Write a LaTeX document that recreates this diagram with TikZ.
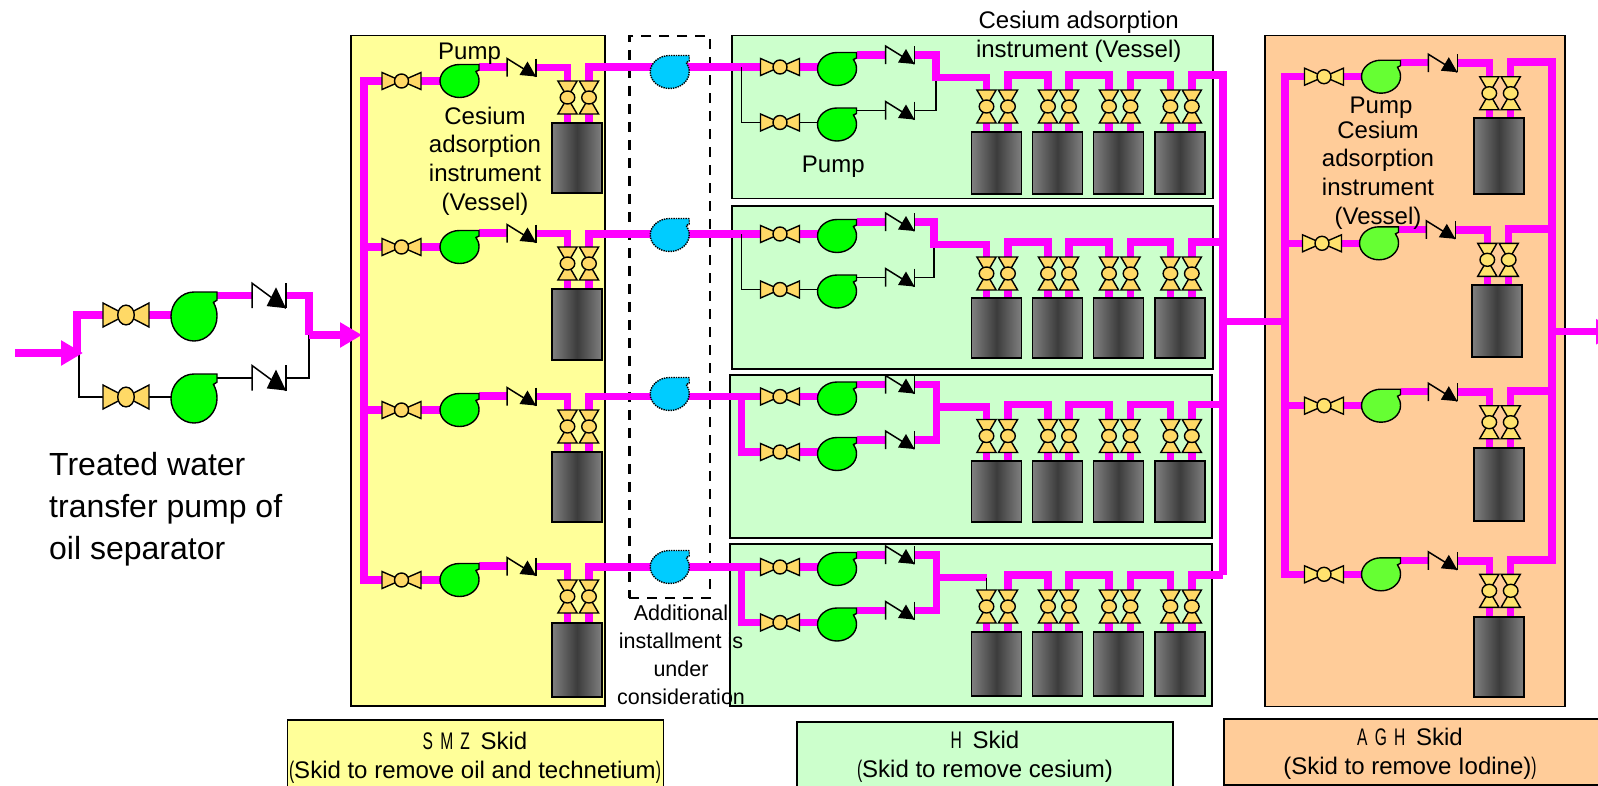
\documentclass[tikz,border=0pt]{standalone}
\usepackage{fontspec}
\setmainfont{Liberation Sans}
\newfontfamily\skidLetters[FakeStretch=0.65,LetterSpace=30]{Liberation Sans}
\usepackage{tikz}
\usetikzlibrary{arrows.meta}
\definecolor{pipeMagenta}{HTML}{FF00FF}
\definecolor{skidYellow}{HTML}{FFFF99}
\definecolor{skidGreen}{HTML}{CCFFCC}
\definecolor{skidOrange}{HTML}{FFCC99}
\definecolor{valveGold}{HTML}{FFD966}
\definecolor{valveLemon}{HTML}{FFE36E}
\definecolor{pumpGreen}{HTML}{00FF00}
\definecolor{pumpLime}{HTML}{66FF33}
\definecolor{pumpBlue}{HTML}{00CCFF}
\definecolor{vesselEdge}{HTML}{808080}
\definecolor{vesselDark}{HTML}{3C3C3C}
\pgfdeclarelayer{skids}
\pgfdeclarelayer{pipes}
\pgfsetlayers{skids,pipes,main}

\begin{document}
\begin{tikzpicture}[
    x=1pt, y=-1pt,
    font=\fontsize{24}{28.7}\selectfont,
    pipeLine/.style={draw=pipeMagenta, line width=7.5pt},
    pipeThin/.style={draw=black, line width=1.6pt},
    pipeArrow/.style={pipeLine, -{Triangle[width=24pt, length=22pt]}},
    skidBox/.style={draw=black, line width=1.8pt, anchor=north west, inner sep=0pt},
    dashBox/.style={draw=black, line width=2.4pt, dash pattern=on 10pt off 8pt, anchor=north west, inner sep=0pt},
    vessel/.style={draw=black, line width=1.8pt, left color=vesselEdge, right color=vesselEdge, middle color=vesselDark, minimum width=50pt, inner sep=0pt, anchor=north},
    textLabel/.style={align=center, inner sep=0pt},
    goldPart/.style={fill=valveGold, draw=black, line width=1.4pt},
    lemonPart/.style={fill=valveLemon, draw=black, line width=1.4pt},
    greenPump/.style={fill=pumpGreen, draw=black, line width=1.4pt},
    limePump/.style={fill=pumpLime, draw=black, line width=1.4pt},
    bluePump/.style={fill=pumpBlue, draw=black, line width=1.4pt, densely dotted},
    pics/valve/.style={code={
        \draw[#1] (-19.5,-8.5) -- (0,0) -- (-19.5,8.5) -- cycle;
        \draw[#1] (19.5,-8.5) -- (0,0) -- (19.5,8.5) -- cycle;
        \draw[#1] (0,0) ellipse [x radius=7, y radius=7];
        \coordinate (-w) at (-19.5,0);
        \coordinate (-e) at (19.5,0);
    }},
    pics/valveUp/.style={code={
        \draw[#1] (-9.6,-16.5) -- (0,0) -- (9.6,-16.5) -- cycle;
        \draw[#1] (-9.6,16.5) -- (0,0) -- (9.6,16.5) -- cycle;
        \draw[#1] (0,0) ellipse [x radius=7.3, y radius=6.5];
        \coordinate (-n) at (0,-16.5);
        \coordinate (-s) at (0,16.5);
    }},
    pics/pump/.style={code={
        \draw[#1] (19.5,-16.5) -- (0,-16.5)
            .. controls (-10.7,-16.5) and (-19.5,-9) .. (-19.5,0)
            .. controls (-19.5,9) and (-10.7,16.5) .. (0,16.5)
            .. controls (10.7,16.5) and (19.5,9) .. (19.5,0)
            .. controls (19.5,-4) and (18.5,-6.5) .. (16.5,-9.5)
            -- (19.5,-11) -- cycle;
        \coordinate (-in) at (-19.5,0);
        \coordinate (-out) at (19.5,-14);
    }},
    pics/checkValve/.style={code={
        \draw[line width=1.5pt] (-14.5,9) -- (-14.5,-9) -- (14.5,9);
        \draw[line width=1.5pt] (14.5,-9) -- (14.5,9);
        \fill (-2,7.5) -- (14.5,9) -- (6,-6) -- cycle;
        \coordinate (-w) at (-14.5,0);
        \coordinate (-e) at (14.5,0);
    }}
]
    \useasboundingbox (0,0) rectangle (1598,785);

    % Skid boxes
    \begin{pgfonlayer}{skids}
        \node [skidBox, fill=skidYellow, minimum width=254pt, minimum height=670.5pt] (smzBox) at (350,34.5) {};
        \node [skidBox, fill=skidGreen, minimum width=481pt, minimum height=163pt] (hBoxA) at (731.3,34.5) {};
        \node [skidBox, fill=skidGreen, minimum width=481pt, minimum height=162.7pt] (hBoxB) at (731.3,205) {};
        \node [skidBox, fill=skidGreen, minimum width=482pt, minimum height=162.4pt] (hBoxC) at (729.3,374.3) {};
        \node [skidBox, fill=skidGreen, minimum width=482pt, minimum height=162pt] (hBoxD) at (729.3,543) {};
        \node [skidBox, fill=skidOrange, minimum width=300pt, minimum height=671pt] (aghBox) at (1264.3,34.5) {};
        \node [dashBox, minimum width=80.7pt, minimum height=562.5pt] (addBox) at (628.2,34.5) {};
        \node [skidBox, fill=skidYellow, minimum width=376pt, minimum height=80pt] (smzTag) at (286.5,719.3) {};
        \node [skidBox, fill=skidGreen, minimum width=376pt, minimum height=80pt] (hTag) at (796.3,721) {};
        \node [skidBox, fill=skidOrange, minimum width=400pt, minimum height=66pt] (aghTag) at (1223.3,718) {};
    \end{pgfonlayer}

    % Transfer pumps of oil separator
    \coordinate (inStart) at (15,353);
    \coordinate (inTip) at (83,353);
    \coordinate (inJoin) at (77,353);
    \coordinate (inThin) at (79,353);
    \coordinate (outJoin) at (309,335);
    \coordinate (outTip) at (362,335);
    \pic [xscale=1.18, yscale=1.41] (tvA) at (126,315) {valve=goldPart};
    \pic [xscale=1.18, yscale=1.41] (tvB) at (126,397) {valve=goldPart};
    \pic [xscale=1.18, yscale=1.485] (tpA) at (194,316.5) {pump=greenPump};
    \pic [xscale=1.18, yscale=1.485] (tpB) at (194,398.5) {pump=greenPump};
    \pic [xscale=1.17, yscale=1.39] (tcA) at (269,295.7) {checkValve};
    \pic [xscale=1.17, yscale=1.39] (tcB) at (269,378) {checkValve};
    \begin{pgfonlayer}{pipes}
        \draw [pipeThin] (inThin) |- (tvB-w);
        \draw [pipeThin] (tvB-e) -- (tvB-e -| tpB-in);
        \draw [pipeThin] (tpB-out) -- (tpB-out -| tcB-w);
        \draw [pipeThin] (tcB-e) -| (outJoin);
        \draw [pipeLine] (inJoin) |- (tvA-w);
        \draw [pipeArrow] (inStart) -- (inTip);
        \draw [pipeLine] (tvA-e) -- (tvA-e -| tpA-in);
        \draw [pipeLine] (tpA-out) -- (tpA-out -| tcA-w);
        \draw [pipeLine] (tcA-e) -| (outJoin);
        \draw [pipeArrow] (outJoin) -- (outTip);
    \end{pgfonlayer}

    % SMZ rows
    \coordinate (smzHdrTop) at (364,81);
    \coordinate (smzHdrEnd) at (364,580);
    \begin{pgfonlayer}{pipes}
        \draw [pipeLine, line cap=rect] (smzHdrTop) -- (smzHdrEnd);
    \end{pgfonlayer}
    \foreach \row/\y/\vt/\vb in {1/81/122/192, 2/247/288/359, 3/410/451/521, 4/580/622/696} {
        \pic (smz\row-va) at (401.5,\y) {valve=goldPart};
        \pic (smz\row-pa) at (459.5,\y) {pump=greenPump};
        \pic (smz\row-ch) at (521.5,\y-13.5) {checkValve};
        \pic (smz\row-a) at (567.5,\y+16.5) {valveUp=goldPart};
        \pic (smz\row-b) at (589,\y+16.5) {valveUp=goldPart};
        \node [vessel, minimum height={(\vb-\vt)*1pt}] (smz\row-tank) at (577,\vt) {};
        \begin{pgfonlayer}{pipes}
            \draw [pipeLine] (smz\row-va-w -| smzHdrTop) -- (smz\row-va-w);
            \draw [pipeLine] (smz\row-va-e) -- (smz\row-pa-in);
            \draw [pipeLine] (smz\row-pa-out) -- (smz\row-pa-out -| smz\row-ch-w);
            \draw [pipeLine] (smz\row-ch-e) -| (smz\row-a-n);
            \draw [pipeLine] (smz\row-a-s) -- (smz\row-a-s |- smz\row-tank.north);
            \draw [pipeLine] (smz\row-b-s) -- (smz\row-b-s |- smz\row-tank.north);
        \end{pgfonlayer}
    }

    % H rows
    \coordinate (hColTop) at (1223,75);
    \coordinate (hColEnd) at (1223,571);
    \coordinate (hColOut) at (1223,321.7);
    \begin{pgfonlayer}{pipes}
        \draw [pipeLine, line cap=rect] (hColTop) -- (hColEnd);
    \end{pgfonlayer}
    \foreach \row/\y/\jx/\vt/\vb/\low/\by in {
        1/67/936/131/193/pipeThin/72,
        2/234/934/297/357/pipeThin/235,
        3/396.5/936.5/460/521/pipeLine/394,
        4/567/936.5/631/695/pipeLine/567
    } {
        \pic (blue\row) at (669.7,\by) {pump=bluePump};
        \pic (h\row-va) at (780,\y) {valve=goldPart};
        \pic (h\row-vb) at (780,\y+55.5) {valve=goldPart};
        \pic (h\row-pa) at (837,\y+2) {pump=greenPump};
        \pic (h\row-pb) at (837,\y+57.5) {pump=greenPump};
        \pic (h\row-ca) at (900,\y-12) {checkValve};
        \pic (h\row-cb) at (900,\y+43.5) {checkValve};
        \coordinate (h\row-join) at (\jx,\y+10.5);
        \coordinate (h\row-branch) at (741.5,\y);
        \coordinate (h\row-top) at (1100,\y+8);
        \foreach \k/\xa/\xb/\vx in {1/986.5/1008/996.5, 2/1048/1069/1057.5, 3/1109/1130.5/1118.5, 4/1170.4/1191.8/1180} {
            \pic (h\row-\k-a) at (\xa,\y+39.5) {valveUp=goldPart};
            \pic (h\row-\k-b) at (\xb,\y+39.5) {valveUp=goldPart};
            \node [vessel, minimum height={(\vb-\vt)*1pt}] (h\row-\k-tank) at (\vx,\vt) {};
            \begin{pgfonlayer}{pipes}
                \draw [pipeLine] (h\row-\k-a-s) -- (h\row-\k-a-s |- h\row-\k-tank.north);
                \draw [pipeLine] (h\row-\k-b-s) -- (h\row-\k-b-s |- h\row-\k-tank.north);
            \end{pgfonlayer}
        }
        \begin{pgfonlayer}{pipes}
            % Line from the SMZ skid runs behind the additional pump
            \draw [pipeLine] (smz\row-b-n) |- (h\row-va-w);
            \draw [\low] (h\row-branch) |- (h\row-vb-w);
            \draw [\low] (h\row-vb-e) -- (h\row-vb-e -| h\row-pb-in);
            \draw [\low] (h\row-pb-out) -- (h\row-pb-out -| h\row-cb-w);
            \draw [\low] (h\row-cb-e) -| (h\row-join);
            \draw [pipeLine] (h\row-va-e) -- (h\row-va-e -| h\row-pa-in);
            \draw [pipeLine] (h\row-pa-out) -- (h\row-pa-out -| h\row-ca-w);
            \ifnum\row=4
                \draw [pipeLine] (h\row-ca-e) -| (h\row-join) -- (h\row-join -| h\row-1-a-n);
                \draw [pipeThin] (h\row-join -| h\row-1-a-n) -- (h\row-1-a-n);
            \else
                \draw [pipeLine] (h\row-ca-e) -| (h\row-join) -| (h\row-1-a-n);
            \fi
            \foreach \k/\nxt in {1/2, 2/3, 3/4} {
                \draw [pipeLine] (h\row-\k-b-n) -- (h\row-\k-b-n |- h\row-top) -- (h\row-\nxt-a-n |- h\row-top) -- (h\row-\nxt-a-n);
            }
            \draw [pipeLine] (h\row-4-b-n) |- (h\row-top -| hColTop);
        \end{pgfonlayer}
    }

    % AGH rows
    \coordinate (aghHdrTop) at (1285,76.7);
    \coordinate (aghHdrEnd) at (1285,574.3);
    \coordinate (aghHdrIn) at (1285,321.7);
    \coordinate (aghColTop) at (1552,62);
    \coordinate (aghColEnd) at (1552,560);
    \coordinate (aghColOut) at (1552,331.7);
    \coordinate (aghTip) at (1618,331.7);
    \begin{pgfonlayer}{pipes}
        \draw [pipeLine, line cap=rect] (aghHdrTop) -- (aghHdrEnd);
        \draw [pipeLine, line cap=rect] (aghColTop) -- (aghColEnd);
        \draw [pipeLine] (hColOut) -- (aghHdrIn);
        \draw [pipeArrow] (aghColOut) -- (aghTip);
    \end{pgfonlayer}
    \foreach \row/\y/\dx/\vt/\vb in {1/76.7/0/117/193, 2/243.3/-2/284/355.7, 3/405.7/0/446.7/520, 4/574.3/0/615.7/695.7} {
        \pic (agh\row-va) at (1324+\dx,\y) {valve=lemonPart};
        \pic (agh\row-pa) at (1381+\dx,\y) {pump=limePump};
        \pic (agh\row-ch) at (1442.8+\dx,\y-13.5) {checkValve};
        \pic (agh\row-a) at (1489.3+\dx,\y+16.5) {valveUp=lemonPart};
        \pic (agh\row-b) at (1510.7+\dx,\y+16.5) {valveUp=lemonPart};
        \node [vessel, minimum height={(\vb-\vt)*1pt}] (agh\row-tank) at (1499+\dx,\vt) {};
        \coordinate (agh\row-top) at (1552,\y-14.5);
        \begin{pgfonlayer}{pipes}
            \draw [pipeLine] (agh\row-va-w -| aghHdrTop) -- (agh\row-va-w);
            \draw [pipeLine] (agh\row-va-e) -- (agh\row-pa-in);
            \draw [pipeLine] (agh\row-pa-out) -- (agh\row-pa-out -| agh\row-ch-w);
            \draw [pipeLine] (agh\row-ch-e) -| (agh\row-a-n);
            \draw [pipeLine] (agh\row-b-n) |- (agh\row-top);
            \draw [pipeLine] (agh\row-a-s) -- (agh\row-a-s |- agh\row-tank.north);
            \draw [pipeLine] (agh\row-b-s) -- (agh\row-b-s |- agh\row-tank.north);
        \end{pgfonlayer}
    }

    % Labels
    \node [textLabel, align=left, anchor=west, font=\fontsize{32}{42}\selectfont] (oilText) at (49,509) {Treated water\\transfer pump of\\oil separator};
    \node [textLabel] (smzPump) at (469.5,54) {Pump};
    \node [textLabel] (smzVessel) at (485,161) {Cesium\\adsorption\\instrument\\(Vessel)};
    \node [textLabel] (hVessel) at (1078.7,37) {Cesium adsorption\\instrument (Vessel)};
    \node [textLabel] (hPump) at (833.3,167) {Pump};
    \node [textLabel] (aghPump) at (1381,108) {Pump};
    \node [textLabel] (aghVessel) at (1378,175) {Cesium\\adsorption\\instrument\\(Vessel)};
    \node [textLabel, font=\fontsize{21.5}{28}\selectfont] (addText) at (681,655) {Additional\\installment is\\under\\consideration};
    \node [textLabel] (smzTagText) at (475,758) {{\skidLetters SMZ}\hspace{4pt} Skid\\{\skidLetters(}Skid to remove oil and technetium{\skidLetters)}};
    \node [textLabel] (hTagText) at (985,756.5) {{\skidLetters H}\hspace{4pt} Skid\\{\skidLetters(}Skid to remove cesium)};
    \node [textLabel] (aghTagText) at (1410,753.5) {{\skidLetters AGH}\hspace{4pt} Skid\\(Skid to remove Iodine){\skidLetters)}};
\end{tikzpicture}
\end{document}
